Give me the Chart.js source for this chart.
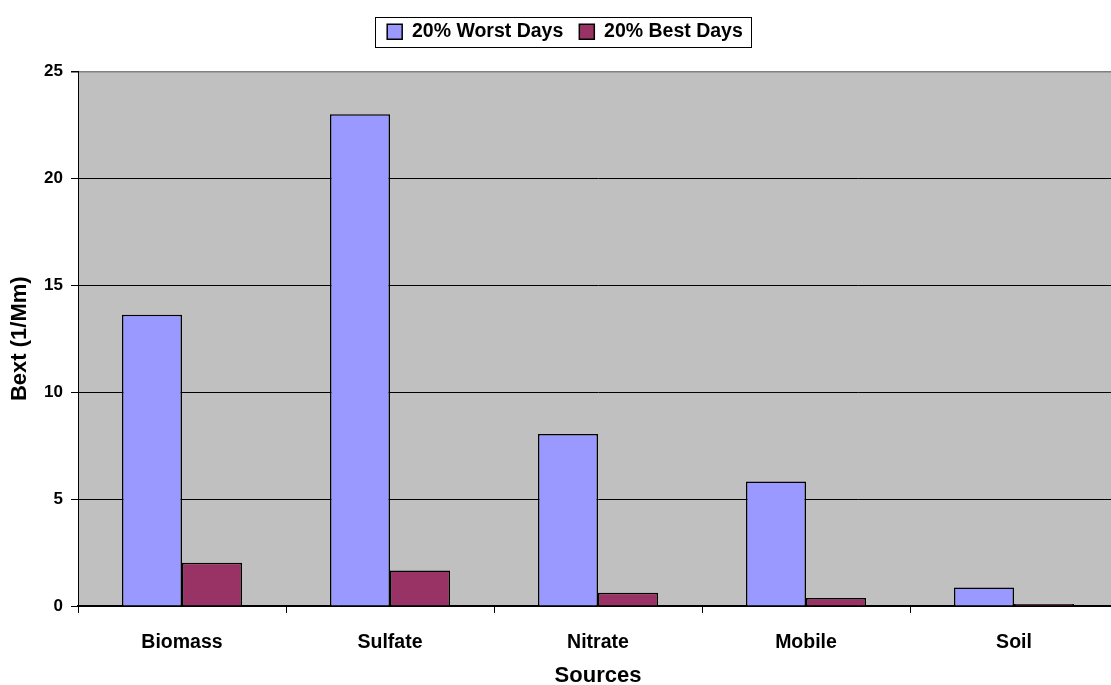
<!DOCTYPE html>
<html><head><meta charset="utf-8">
<script src="https://cdn.jsdelivr.net/npm/chart.js@4"></script>
<style>
html,body{margin:0;padding:0;background:#fff;overflow:hidden;width:1111px;height:685px}
#wrap{position:absolute;left:0;top:0;width:1130px;height:685px}
</style></head>
<body><div id="wrap"><canvas id="c" width="1130" height="685"></canvas></div>
<script>
const categories = ['Biomass', 'Sulfate', 'Nitrate', 'Mobile', 'Soil'];
const seriesNames = ['20% Worst Days', '20% Best Days'];
const worstDays = [13.62, 23.0, 8.05, 5.82, 0.86];
const bestDays = [2.02, 1.66, 0.62, 0.38, 0.09];
const yTicks = [0, 5, 10, 15, 20, 25];
const xTitle = 'Sources';
const yTitle = 'Bext (1/Mm)';

const FONT = '"Liberation Sans", Arial, Helvetica, sans-serif';

const plotBg = {
  id: 'plotBg',
  beforeDraw(chart) {
    const a = chart.chartArea, ctx = chart.ctx;
    ctx.save();
    ctx.fillStyle = '#C0C0C0';
    ctx.fillRect(a.left, a.top, a.right - a.left, a.bottom - a.top);
    ctx.restore();
  }
};

const legendShift = {
  id: 'legendShift',
  afterLayout(chart) {
    const l = chart.legend;
    if (l) { l.left += 6; l.right += 6; l.top -= 20; l.bottom -= 20; }
  }
};

const legendBorder = {
  id: 'legendBorder',
  afterDraw(chart) {
    const l = chart.legend;
    if (!l || !l.legendHitBoxes.length) return;
    const hb = l.legendHitBoxes;
    let x0 = Infinity, x1 = -Infinity, y0 = Infinity, y1 = -Infinity;
    hb.forEach(h => { x0 = Math.min(x0, h.left); x1 = Math.max(x1, h.left + h.width); y0 = Math.min(y0, h.top); y1 = Math.max(y1, h.top + h.height); });
    const ctx = chart.ctx;
    ctx.save();
    ctx.strokeStyle = '#000';
    ctx.lineWidth = 1;
    const cy = (y0 + y1) / 2;
    ctx.strokeRect(Math.round(x0 - 12) + 0.5, Math.round(cy - 15) + 0.5, Math.round(x1 - x0 + 20), 30);
    ctx.restore();
  }
};

new Chart(document.getElementById('c'), {
  type: 'bar',
  data: {
    labels: categories,
    datasets: [
      { label: seriesNames[0], data: worstDays, backgroundColor: '#9999FF', borderColor: '#000', borderWidth: 1.5,
        categoryPercentage: 0.577, barPercentage: 1.0 },
      { label: seriesNames[1], data: bestDays, backgroundColor: '#993366', borderColor: '#000', borderWidth: 1.5,
        categoryPercentage: 0.577, barPercentage: 1.0 }
    ]
  },
  options: {
    responsive: false,
    animation: false,
    devicePixelRatio: 1,
    layout: { padding: { top: 26, right: 12, left: 0, bottom: 0 } },
    plugins: {
      legend: {
        position: 'top',
        labels: {
          font: { family: FONT, size: 19.5, weight: 'bold' },
          color: '#000',
          boxWidth: 15, boxHeight: 15,
          padding: 16
        }
      },
      tooltip: { enabled: false }
    },
    scales: {
      x: {
        offset: true,
        grid: { offset: true, drawOnChartArea: false, color: '#000', tickLength: 7, lineWidth: 1 },
        border: { color: '#000', width: 1.5 },
        ticks: { font: { family: FONT, size: 19.5, weight: 'bold' }, color: '#000', padding: 18, maxRotation: 0 },
        title: { display: true, text: xTitle, font: { family: FONT, size: 22, weight: 'bold' }, color: '#000', padding: { top: 0, bottom: -4 } },
        afterFit(s) { s.height = 79; }
      },
      y: {
        min: 0, max: 25,
        afterBuildTicks(s) { s.ticks = yTicks.map(v => ({ value: v })); },
        grid: {
          color: ctx => (ctx.tick && ctx.tick.value === 25) ? '#808080' : '#000',
          tickColor: '#000',
          tickLength: 7,
          lineWidth: ctx => (ctx.tick && ctx.tick.value === 25) ? 1.5 : 1
        },
        border: { color: '#000', width: 1 },
        ticks: { font: { family: FONT, size: 17, weight: 'bold' }, color: '#000', padding: 8 },
        title: { display: true, text: yTitle, font: { family: FONT, size: 22, weight: 'bold' }, color: '#000', padding: { top: 7, bottom: 0 } },
        afterFit(s) { s.width = 78; }
      }
    }
  },
  plugins: [plotBg, legendShift, legendBorder]
});
</script>
</body></html>
